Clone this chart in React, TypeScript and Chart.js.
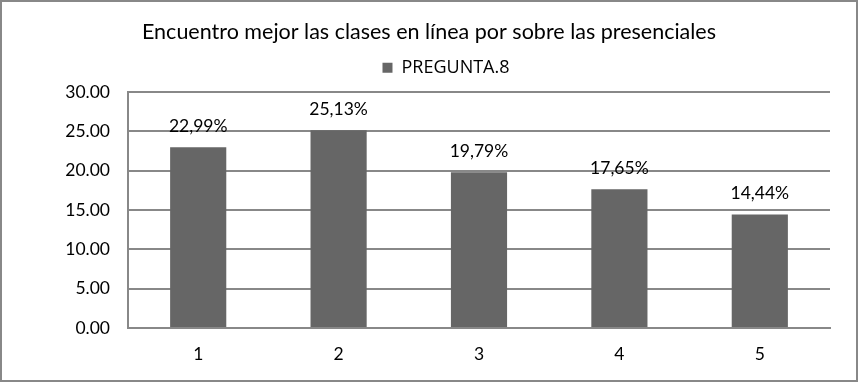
import React, { useEffect, useRef } from "react";
import { Chart, registerables } from "chart.js";

Chart.register(...registerables);

const categories = ["1", "2", "3", "4", "5"];
const values = [22.99, 25.13, 19.79, 17.65, 14.44];
const valueLabels = ["22,99%", "25,13%", "19,79%", "17,65%", "14,44%"];
const seriesName = "PREGUNTA.8";
const titleText = "Encuentro mejor las clases en línea por sobre las presenciales";

const FONT = "Lato, 'Liberation Sans', sans-serif";

const valueLabelPlugin = {
  id: "valueLabels",
  afterDatasetsDraw(chart: any) {
    const ctx = chart.ctx;
    const meta = chart.getDatasetMeta(0);
    ctx.save();
    ctx.font = `17.5px ${FONT}`;
    ctx.fillStyle = "#000";
    ctx.textAlign = "center";
    ctx.textBaseline = "bottom";
    meta.data.forEach((bar: any, i: number) => {
      ctx.fillText(valueLabels[i], bar.x, bar.y - 12);
    });
    ctx.restore();
  },
};

const legendFitPlugin = {
  id: "legendFit",
  beforeLayout(chart: any) {
    const lg = chart.legend;
    if (lg && !lg._fitPatched) {
      const orig = lg.fit;
      lg.fit = function () {
        orig.call(this);
        this.height = 47.2;
      };
      lg._fitPatched = true;
    }
  },
  afterLayout(chart: any) {
    const lg = chart.legend;
    if (lg) {
      lg.left += 30;
      lg.right += 30;
    }
    const tb = chart.titleBlock;
    if (tb) {
      tb.left += 13;
      tb.right += 13;
    }
  },
};

export default function App() {
  const ref = useRef<HTMLCanvasElement>(null);
  useEffect(() => {
    const chart = new Chart(ref.current!, {
      type: "bar",
      data: {
        labels: categories,
        datasets: [
          {
            label: seriesName,
            data: values,
            backgroundColor: "#666666",
            borderWidth: 0,
            barPercentage: 0.4,
            categoryPercentage: 1,
          },
        ],
      },
      options: {
        animation: false,
        responsive: false,
        layout: { padding: { left: 0, right: 26, top: 0, bottom: 0 } },
        plugins: {
          title: {
            display: true,
            text: titleText,
            color: "#000",
            font: { family: FONT, size: 21.5, weight: "normal" },
            padding: { top: 17, bottom: 0 },
          },
          legend: {
            display: true,
            labels: {
              color: "#000",
              font: { family: "'Open Sans', " + FONT, size: 18 },
              boxWidth: 10,
              boxHeight: 10,
              padding: 14,
            },
          },
          tooltip: { enabled: false },
        },
        scales: {
          x: {
            grid: { display: false, drawTicks: false },
            border: { display: true, color: "#888888", width: 2 },
            ticks: {
              color: "#000",
              font: { family: FONT, size: 17.5 },
              padding: 16,
            },
            afterFit(scale: any) {
              scale.height = 52;
            },
          },
          y: {
            min: 0,
            max: 30,
            grid: { color: "#888888", lineWidth: 2, drawTicks: false },
            border: { display: true, color: "#888888", width: 2 },
            ticks: {
              stepSize: 5,
              color: "#000",
              font: { family: FONT, size: 17.5 },
              padding: 18,
              callback: (v: any) => Number(v).toFixed(2),
            },
            afterFit(scale: any) {
              scale.width = 126;
            },
          },
        },
      },
      plugins: [valueLabelPlugin, legendFitPlugin],
    });
    return () => chart.destroy();
  }, []);
  return (
    <div
      style={{
        position: "absolute",
        left: 0,
        top: 0,
        width: 858,
        height: 382,
        boxSizing: "border-box",
        border: "2px solid #888888",
        background: "#fff",
      }}
    >
      <canvas ref={ref} width={854} height={378} style={{ display: "block" }} />
    </div>
  );
}
